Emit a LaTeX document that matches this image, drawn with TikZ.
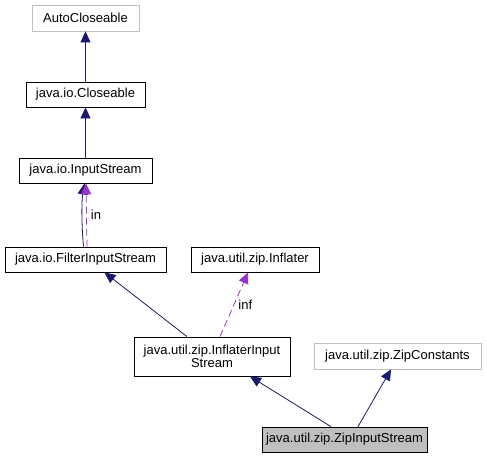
\documentclass[tikz,border=0pt]{standalone}
\usepackage{fontspec}
\setmainfont{Liberation Sans}
\usetikzlibrary{arrows.meta,calc}
\definecolor{navy}{HTML}{191970}
\definecolor{purp}{HTML}{9A32CD}
\definecolor{lgray}{HTML}{BFBFBF}
\begin{document}
\begin{tikzpicture}[x=1pt,y=-1pt,
  cls/.style={draw=black,line width=0.8pt,fill=white,inner sep=0pt,align=center,
    font=\fontsize{13}{14}\selectfont},
  ext/.style={cls,draw=lgray},
  cur/.style={cls,fill=lgray},
  inh/.style={draw=navy,line width=0.8pt,-{Triangle[length=11pt,width=10pt]}},
  use/.style={draw=purp,line width=0.8pt,dash pattern=on 7pt off 4pt,-{Triangle[length=11pt,width=10pt]}},
  lbl/.style={font=\fontsize{13}{14}\selectfont,inner sep=0pt}]
\useasboundingbox (0,0) rectangle (487,459);
\node[ext,minimum width=107pt,minimum height=26pt] (auto) at (85.5,18) {AutoCloseable};
\node[cls,minimum width=119pt,minimum height=25pt] (clos) at (85.5,94.5) {java.io.Closeable};
\node[cls,minimum width=133pt,minimum height=25pt] (ins) at (85.5,170.5) {java.io.InputStream};
\node[cls,minimum width=161pt,minimum height=25pt] (fis) at (85.5,259.5) {java.io.FilterInputStream};
\node[cls,minimum width=128pt,minimum height=25pt] (infl) at (255,259.5) {java.util.zip.Inflater};
\node[cls,minimum width=156pt,minimum height=39pt] (iis) at (212,356.5) {java.util.zip.InflaterInput\\[-1pt]Stream};
\node[ext,minimum width=167pt,minimum height=26pt] (zc) at (397.5,356) {java.util.zip.ZipConstants};
\node[cur,minimum width=165pt,minimum height=25pt] (zis) at (344.5,439.5) {java.util.zip.ZipInputStream};
% edges
\draw[inh] (clos.north) -- (auto.south);
\draw[inh] (ins.north) -- (clos.south);
\draw[inh] ($(fis.north)+(-2,0)$) .. controls ($(fis.north)+(-4,-22)$) and ($(ins.south)+(-4,18)$) .. ($(ins.south)+(-1,0)$);
\draw[use] ($(fis.north)+(1.5,0)$) -- ($(ins.south)+(0.5,0)$) node[lbl,midway,right=4pt] {in};
\draw[inh] ($(iis.north)+(-25,0)$) -- ($(fis.south)+(19,0)$);
\draw[use] ($(iis.north)+(8,0)$) -- ($(infl.south)+(-7,0)$) node[lbl,pos=0.5,right=4pt] {inf};
\draw[inh] ($(zis.north)+(-13.5,0)$) -- ($(iis.south)+(38,0)$);
\draw[inh] ($(zis.north)+(13.5,0)$) -- ($(zc.south)+(-6.5,0)$);
\end{tikzpicture}
\end{document}
